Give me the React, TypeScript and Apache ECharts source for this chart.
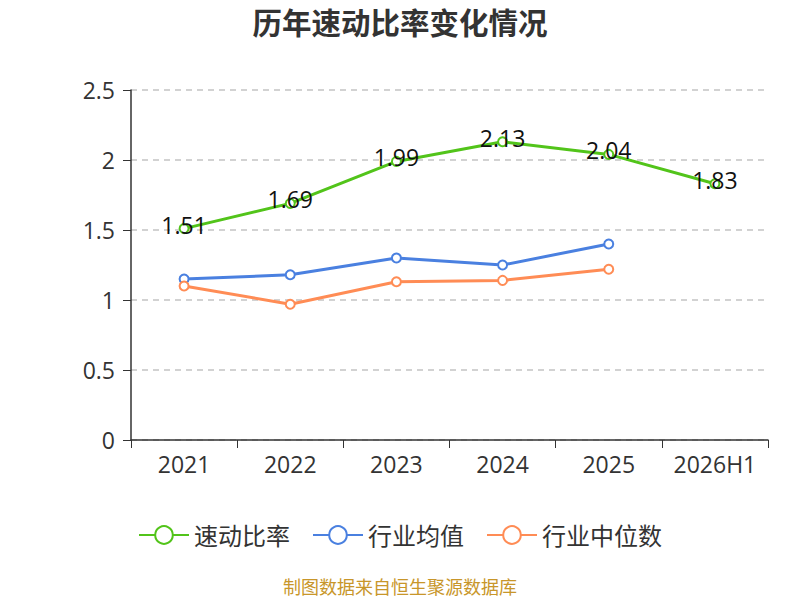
import React, { useEffect, useRef } from "react";
import * as echarts from "echarts";

const categories = ["2021", "2022", "2023", "2024", "2025", "2026H1"];
const quickRatio = [1.51, 1.69, 1.99, 2.13, 2.04, 1.83];
const industryMean = [1.15, 1.18, 1.3, 1.25, 1.4, null];
const industryMedian = [1.1, 0.97, 1.13, 1.14, 1.22, null];
const seriesNames = ["速动比率", "行业均值", "行业中位数"];
const colors = ["#52c41a", "#4a80e0", "#ff8c55"];

export default function App() {
  const ref = useRef<HTMLDivElement>(null);
  useEffect(() => {
    if (!ref.current) return;
    const chart = echarts.init(ref.current, undefined, { renderer: "svg" });
    const font = "'Open Sans', 'Noto Sans CJK SC', sans-serif";
    chart.setOption({
      animation: false,
      textStyle: { fontFamily: font },
      title: {
        text: "历年速动比率变化情况",
        left: "center",
        top: 3,
        textStyle: { fontSize: 29.5, fontWeight: "bold", color: "#333", fontFamily: font },
      },
      grid: { left: 131, right: 32, top: 90, bottom: 160, containLabel: false },
      legend: {
        bottom: 48,
        left: "center",
        itemWidth: 50,
        itemHeight: 22,
        itemGap: 22,
        textStyle: { fontSize: 24, color: "#333", fontFamily: font },
        data: seriesNames,
      },
      graphic: [
        {
          type: "text",
          left: "center",
          top: 578,
          style: { text: "制图数据来自恒生聚源数据库", fill: "#c8962a", fontSize: 18, fontFamily: font },
        },
      ],
      xAxis: {
        type: "category",
        data: categories,
        boundaryGap: true,
        axisLine: { lineStyle: { color: "#333", width: 1.5 } },
        axisTick: { show: true, length: 8, lineStyle: { color: "#333" } },
        axisLabel: { fontSize: 23, color: "#333", margin: 12, interval: 0 },
      },
      yAxis: {
        type: "value",
        min: 0,
        max: 2.5,
        interval: 0.5,
        axisLine: { show: true, lineStyle: { color: "#333", width: 1.5 } },
        axisTick: { show: true, length: 8, lineStyle: { color: "#333" } },
        axisLabel: { fontSize: 23, color: "#333", margin: 16 },
        splitLine: { lineStyle: { type: [6, 5], color: "#c4c4c4", width: 1.5 } },
      },
      series: [
        {
          name: seriesNames[0],
          type: "line",
          data: quickRatio,
          symbol: "emptyCircle",
          symbolSize: 9,
          itemStyle: { color: colors[0] },
          lineStyle: { width: 3, color: colors[0] },
          label: {
            show: true,
            position: "top",
            distance: -13,
            fontSize: 23,
            color: "#111",
          },
          z: 3,
        },
        {
          name: seriesNames[1],
          type: "line",
          data: industryMean,
          symbol: "emptyCircle",
          symbolSize: 9,
          itemStyle: { color: colors[1] },
          lineStyle: { width: 3, color: colors[1] },
        },
        {
          name: seriesNames[2],
          type: "line",
          data: industryMedian,
          symbol: "emptyCircle",
          symbolSize: 9,
          itemStyle: { color: colors[2] },
          lineStyle: { width: 3, color: colors[2] },
        },
      ],
    });
    return () => chart.dispose();
  }, []);
  return <div ref={ref} style={{ width: 800, height: 600, position: "absolute", left: 0, top: 0 }} />;
}
